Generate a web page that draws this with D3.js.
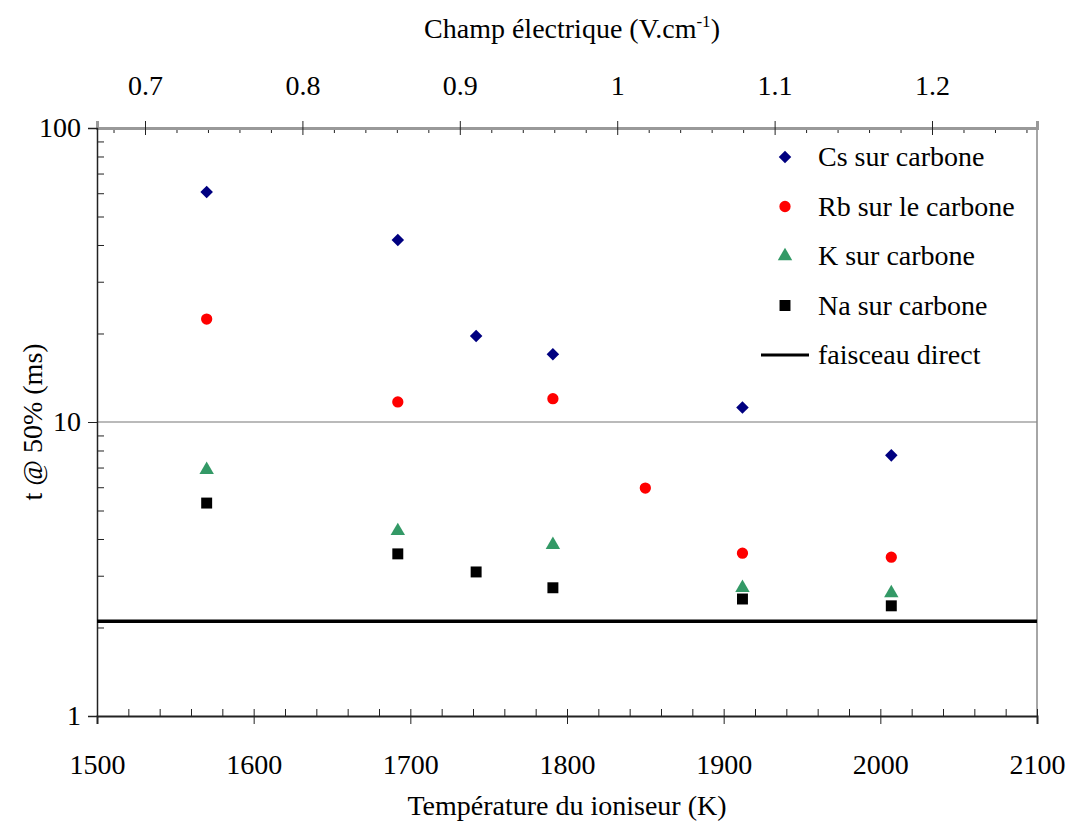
<!DOCTYPE html>
<html>
<head>
<meta charset="utf-8">
<script src="https://cdn.jsdelivr.net/npm/d3@7"></script>
<style>
  body { margin: 0; background: #fff; }
  svg text { font-family: "Liberation Serif", "Times New Roman", serif; fill: #000; }
</style>
</head>
<body>
<script>
var w = 1067;
var h = 824;

// data
var csTemp = [1570, 1692, 1742, 1791, 1912, 2007];
var csVal  = [60.6, 41.6, 19.6, 17.0, 11.2, 7.7];
var rbTemp = [1570, 1692, 1791, 1850, 1912, 2007];
var rbVal  = [22.4, 11.7, 12.0, 5.96, 3.58, 3.47];
var kTemp  = [1570, 1692, 1791, 1912, 2007];
var kVal   = [6.87, 4.26, 3.82, 2.73, 2.62];
var naTemp = [1570, 1692, 1742, 1791, 1912, 2007];
var naVal  = [5.30, 3.56, 3.09, 2.73, 2.50, 2.37];
var directBeam = 2.1;

var legendLabels = ["Cs sur carbone", "Rb sur le carbone", "K sur carbone", "Na sur carbone", "faisceau direct"];
var xTicks = [1500, 1600, 1700, 1800, 1900, 2000, 2100];
var topTicks = [0.7, 0.8, 0.9, 1, 1.1, 1.2];
var yTicks = [1, 10, 100];

var pLeft = 97, pRight = 1037, pTop = 128, pBottom = 716;
var fs = "28px";
var ff = "Liberation Serif, Times New Roman, serif";

var svg = d3.select("body").append("svg")
            .attr("width", w)
            .attr("height", h)
            .attr("font-family", ff);

var x = d3.scaleLinear().domain([1500, 2100]).range([pLeft, pRight]);
var xTop = d3.scaleLinear().domain([0.6695, 1.2667]).range([pLeft, pRight]);
var y = d3.scaleLog().domain([1, 100]).range([pBottom, pTop]);

// gridline at 10 and right border
svg.append("line")
   .attr("x1", pLeft).attr("x2", pRight)
   .attr("y1", y(10)).attr("y2", y(10))
   .attr("stroke", "#777").attr("stroke-width", 1.2);
svg.append("line")
   .attr("x1", pRight).attr("x2", pRight)
   .attr("y1", pTop).attr("y2", pBottom)
   .attr("stroke", "#888").attr("stroke-width", 1.5);

// bottom axis
var xMinor = d3.range(1500, 2101, 20).filter(function(d) { return d % 100 != 0; });
svg.append("g")
   .attr("transform", "translate(0," + pBottom + ")")
   .call(d3.axisBottom(x).tickValues(xMinor).tickSize(-7).tickFormat(""))
   .call(function(g) { g.select(".domain").remove(); });
var gx = svg.append("g")
   .attr("transform", "translate(0," + pBottom + ")")
   .call(d3.axisBottom(x).tickValues(xTicks).tickSize(8).tickPadding(30).tickFormat(d3.format("d")));
gx.selectAll(".tick line").attr("y1", -7);
gx.select(".domain").attr("stroke-width", 2).attr("stroke", "#222");

// top axis
var topMinor = d3.range(0.68, 1.27, 0.02).filter(function(d) {
  return Math.abs(d * 10 - Math.round(d * 10)) > 0.01;
});
svg.append("g")
   .attr("transform", "translate(0," + pTop + ")")
   .call(d3.axisTop(xTop).tickValues(topMinor).tickSize(-5).tickFormat(""))
   .call(function(g) { g.select(".domain").remove(); });
var gt = svg.append("g")
   .attr("transform", "translate(0," + pTop + ")")
   .call(d3.axisTop(xTop).tickValues(topTicks).tickSize(7).tickPadding(26).tickFormat(d3.format("")));
gt.selectAll(".tick line").attr("y1", 7);
gt.select(".domain").attr("stroke-width", 3).attr("stroke", "#999");

// left axis
var yMinor = [2, 3, 4, 5, 6, 7, 8, 9, 20, 30, 40, 50, 60, 70, 80, 90];
svg.append("g")
   .attr("transform", "translate(" + pLeft + ",0)")
   .call(d3.axisLeft(y).tickValues(yMinor).tickSize(-7).tickFormat(""))
   .call(function(g) { g.select(".domain").remove(); });
var gy = svg.append("g")
   .attr("transform", "translate(" + pLeft + ",0)")
   .call(d3.axisLeft(y).tickValues(yTicks).tickSize(9).tickPadding(7).tickFormat(d3.format("d")));
gy.select(".domain").attr("stroke-width", 1.5).attr("stroke", "#222");

svg.selectAll(".tick line").attr("stroke", "#222");
svg.selectAll(".tick text")
   .attr("font-family", ff)
   .style("font-size", fs);

// direct beam line
svg.append("line")
   .attr("x1", pLeft).attr("x2", pRight)
   .attr("y1", y(directBeam)).attr("y2", y(directBeam))
   .attr("stroke", "#000").attr("stroke-width", 3.5);

// series
var series = [
  {temp: csTemp, val: csVal, shape: d3.symbolDiamond2, size: 100, color: "#000080"},
  {temp: rbTemp, val: rbVal, shape: d3.symbolCircle, size: 100, color: "#ff0000"},
  {temp: kTemp,  val: kVal,  shape: d3.symbolTriangle, size: 90, color: "#339966"},
  {temp: naTemp, val: naVal, shape: d3.symbolSquare, size: 120, color: "#000000"}
];

series.forEach(function(s) {
  svg.append("g").selectAll("path")
     .data(d3.zip(s.temp, s.val))
     .join("path")
     .attr("transform", function(d) { return "translate(" + x(d[0]) + "," + y(d[1]) + ")"; })
     .attr("d", d3.symbol().type(s.shape).size(s.size))
     .attr("fill", s.color);
});

// legend
var legend = svg.append("g").attr("transform", "translate(785,157)");
legendLabels.forEach(function(label, i) {
  var row = legend.append("g").attr("transform", "translate(0," + (i * 49.5) + ")");
  if (i < 4) {
    var s = series[i];
    row.append("path")
       .attr("d", d3.symbol().type(s.shape).size(s.size))
       .attr("fill", s.color);
  } else {
    row.append("line")
       .attr("x1", -24).attr("x2", 24)
       .attr("stroke", "#000").attr("stroke-width", 3);
  }
  row.append("text")
     .attr("x", 33).attr("y", 9)
     .style("font-size", fs)
     .text(label);
});

// axis titles
svg.append("text")
   .attr("x", 567).attr("y", 815)
   .attr("text-anchor", "middle")
   .style("font-size", fs)
   .text("Température du ioniseur (K)");

var tt = svg.append("text")
   .attr("x", 572).attr("y", 38)
   .attr("text-anchor", "middle")
   .style("font-size", fs);
tt.append("tspan").text("Champ électrique (V.cm");
tt.append("tspan").attr("dy", -11).style("font-size", "17px").text("-1");
tt.append("tspan").attr("dy", 11).text(")");

svg.append("text")
   .attr("transform", "translate(42,422) rotate(-90)")
   .attr("text-anchor", "middle")
   .style("font-size", fs)
   .text("t @ 50% (ms)");
</script>
</body>
</html>
